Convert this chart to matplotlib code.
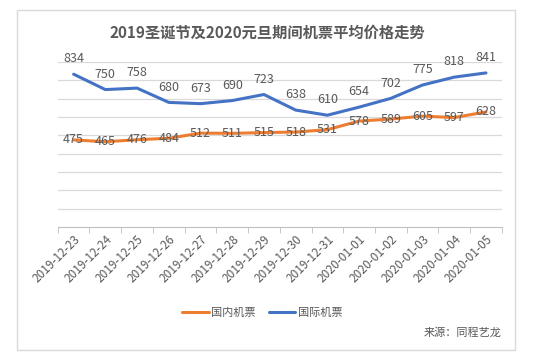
import matplotlib
matplotlib.use("Agg")
import matplotlib.pyplot as plt
from matplotlib.patches import Rectangle

plt.rcParams['font.family'] = ['Noto Sans CJK SC', 'DejaVu Sans']

dates = ["2019-12-23", "2019-12-24", "2019-12-25", "2019-12-26", "2019-12-27",
         "2019-12-28", "2019-12-29", "2019-12-30", "2019-12-31", "2020-01-01",
         "2020-01-02", "2020-01-03", "2020-01-04", "2020-01-05"]
domestic = [475, 465, 476, 484, 512, 511, 515, 518, 531, 578, 589, 605, 597, 628]
intl = [834, 750, 758, 680, 673, 690, 723, 638, 610, 654, 702, 775, 818, 841]

c_dom = "#ED7D31"
c_int = "#4472C4"
gray = "#595959"

fig = plt.figure(figsize=(5.35, 3.55), dpi=100)
ax = fig.add_axes([0.108, 0.361, 0.830, 0.464])

x = list(range(len(dates)))
ax.plot(x, domestic, color=c_dom, lw=2.2, label="国内机票", solid_capstyle="round")
ax.plot(x, intl, color=c_int, lw=2.2, label="国际机票", solid_capstyle="round")

# data labels: intl above the line, domestic sitting on it
for i, v in enumerate(intl):
    ax.annotate(str(v), (i, v), xytext=(0, 11), textcoords="offset points",
                ha="center", va="center", fontsize=9, color=gray)
for i, v in enumerate(domestic):
    ax.annotate(str(v), (i, v), xytext=(0, 0), textcoords="offset points",
                ha="center", va="center", fontsize=9, color=gray)

ax.set_xlim(-0.5, len(dates) - 0.5)
ax.set_ylim(0, 900)
ax.set_yticks(range(100, 901, 100))
ax.yaxis.grid(True, color="#D9D9D9", lw=0.9)
ax.set_axisbelow(True)
ax.tick_params(axis="y", left=False, labelleft=False)

ax.set_xticks(x)
ax.set_xticklabels(dates, rotation=45, ha="right", rotation_mode="anchor",
                   fontsize=8.5, color=gray)
ax.tick_params(axis="x", length=0, pad=4)
ax.set_xticks([i - 0.5 for i in range(len(dates) + 1)], minor=True)
ax.tick_params(axis="x", which="minor", length=4, color="#BFBFBF")

for s in ["left", "right", "top"]:
    ax.spines[s].set_visible(False)
ax.spines["bottom"].set_color("#BFBFBF")

fig.text(0.50, 0.907, "2019圣诞节及2020元旦期间机票平均价格走势", ha="center", va="center",
         fontsize=11, fontweight="bold", color=gray)

fig.legend(loc="center", bbox_to_anchor=(0.49, 0.118), ncol=2, frameon=False,
           fontsize=8, handlelength=2.4, columnspacing=1.2, handletextpad=0.2,
           labelcolor=gray)

fig.text(0.938, 0.062, "来源：同程艺龙", ha="right", va="center", fontsize=8, color=gray)

fig.patches.append(Rectangle((0.032, 0.014), 0.931, 0.958, transform=fig.transFigure,
                             fill=False, edgecolor="#D9D9D9", lw=1))

fig.savefig("out.png", dpi=100, facecolor="white")
